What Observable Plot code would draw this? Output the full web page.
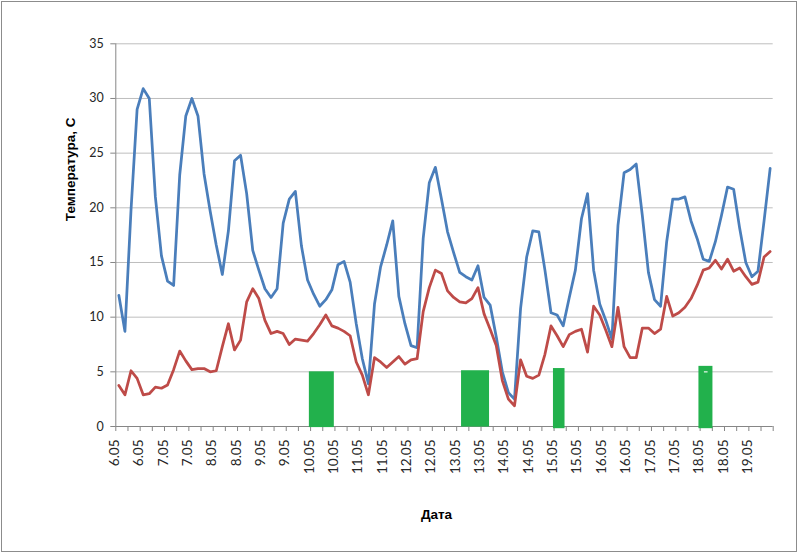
<!DOCTYPE html>
<html><head><meta charset="utf-8">
<script src="https://cdn.jsdelivr.net/npm/d3@7"></script>
<script src="https://cdn.jsdelivr.net/npm/@observablehq/plot@0.6"></script>
<style>
body{margin:0;background:#fff;}
#wrap{position:relative;width:798px;height:553px;overflow:hidden;}
#border{position:absolute;left:1px;top:1px;width:794px;height:549px;border:1px solid #8c8c8c;pointer-events:none;}
</style></head><body>
<div id="wrap"><div id="chart"></div><div id="border"></div></div>
<script>
// Category tick labels (one label every 4 observations)
const dateLabels = ["6.05","6.05","7.05","7.05","8.05","8.05","9.05","9.05","10.05","10.05","11.05","11.05","12.05","12.05","13.05","13.05","14.05","14.05","15.05","15.05","16.05","16.05","17.05","17.05","18.05","18.05","19.05"];
const labelStep = 4;

// Blue series
const seriesBlue = [12.0,8.7,19.8,29.0,30.9,30.0,21.0,15.6,13.3,12.9,
  23.0,28.4,30.0,28.4,23.1,19.7,16.6,13.9,17.9,24.3,
  24.8,21.3,16.1,14.3,12.6,11.8,12.6,18.6,20.8,21.5,
  16.5,13.4,12.1,11.0,11.6,12.5,14.8,15.1,13.2,9.4,
  6.2,3.9,11.2,14.6,16.6,18.8,11.9,9.4,7.4,7.2,
  17.2,22.3,23.7,20.8,17.8,15.9,14.1,13.7,13.4,14.7,
  11.8,11.1,8.2,5.0,3.1,2.5,10.8,15.5,17.9,17.8,
  14.3,10.4,10.2,9.2,11.8,14.3,19.0,21.3,14.3,11.2,
  9.7,8.0,18.4,23.2,23.5,24.0,19.3,14.1,11.6,11.0,
  16.9,20.8,20.8,21.0,18.8,17.2,15.3,15.1,16.9,19.3,
  21.9,21.7,18.1,15.0,13.7,14.2,18.8,23.6];

// Red series
const seriesRed = [3.75,2.9,5.1,4.4,2.9,3.0,3.6,3.5,3.8,5.2,
  6.9,6.0,5.2,5.3,5.3,5.0,5.1,7.3,9.4,7.0,
  7.9,11.4,12.6,11.7,9.7,8.5,8.7,8.5,7.5,8.0,
  7.9,7.8,8.5,9.3,10.2,9.2,9.0,8.7,8.3,5.9,
  4.7,2.9,6.3,5.9,5.4,5.9,6.4,5.7,6.1,6.2,
  10.5,12.7,14.3,14.0,12.4,11.8,11.4,11.3,11.7,12.7,
  10.3,8.9,7.4,4.2,2.5,1.9,6.1,4.6,4.4,4.7,
  6.6,9.2,8.3,7.3,8.4,8.7,8.9,6.8,11.0,10.2,
  8.8,7.3,10.9,7.3,6.3,6.3,9.0,9.0,8.5,8.9,
  11.9,10.1,10.4,10.9,11.7,12.9,14.3,14.5,15.2,14.4,
  15.3,14.2,14.5,13.7,13.0,13.2,15.5,16.0];

// Green blocks (in observation-index units and temperature units)
const barStart = [31.3, 56.3, 71.4, 95.3];
const barEnd   = [35.4, 60.9, 73.3, 97.6];
const barLow   = [-0.1, -0.05, -0.2, -0.2];
const barHigh  = [5.0, 5.1, 5.3, 5.5];

// small white dash on the last block
const dashStart = [96.2];
const dashEnd = [96.8];
const dashLow = [4.9];
const dashHigh = [5.0];

const yTicks = [0,5,10,15,20,25,30,35];

const n = seriesBlue.length;
const bars = barStart.map((s,i) => ({x1: s, x2: barEnd[i], y1: barLow[i], y2: barHigh[i]}));
const dashes = dashStart.map((s,i) => ({x1: s, x2: dashEnd[i], y1: dashLow[i], y2: dashHigh[i]}));
const labelData = dateLabels.map((t,i) => ({t, x: i*labelStep}));

const axisGray = "#868686";

const chart = Plot.plot({
  width: 798,
  height: 553,
  marginLeft: 115.3,
  marginRight: 25.3,
  marginTop: 43.3,
  marginBottom: 127,
  style: {fontFamily: "Lato, 'Open Sans', sans-serif", fontSize: "12.5px", background: "white", color: "#262626"},
  x: {type: "linear", domain: [-0.5, n - 0.5], axis: null},
  y: {domain: [0, 35], axis: null},
  marks: [
    Plot.gridY(yTicks.filter(v => v > 0), {stroke: "#bebebe", strokeOpacity: 1}),
    Plot.axisY({ticks: yTicks, tickSize: 5, tickPadding: 7, stroke: axisGray, fill: "#262626", label: null, fontSize: 12.5}),
    Plot.axisX({ticks: d3.range(-0.5, n, 2), tickSize: 5, tickFormat: () => "", stroke: axisGray, label: null}),
    Plot.ruleY([0], {stroke: axisGray}),
    Plot.ruleX([-0.5], {stroke: axisGray}),
    Plot.text(labelData, {x: "x", text: "t", frameAnchor: "bottom", rotate: -90, textAnchor: "end", dy: 13, fill: "#262626", fontSize: 13.5}),
    Plot.rect(bars, {x1: "x1", x2: "x2", y1: "y1", y2: "y2", fill: "#22b14c"}),
    Plot.rect(dashes, {x1: "x1", x2: "x2", y1: "y1", y2: "y2", fill: "white"}),
    Plot.line(seriesBlue, {x: (d,i) => i, y: d => d, stroke: "#4a7ebb", strokeWidth: 2.75, strokeLinejoin: "round"}),
    Plot.line(seriesRed, {x: (d,i) => i, y: d => d, stroke: "#be4b48", strokeWidth: 2.75, strokeLinejoin: "round"}),
    Plot.text(["Температура, С"], {frameAnchor: "left", rotate: -90, dx: -45, dy: -14, fontWeight: "bold", fontFamily: "'Liberation Sans', Arial, sans-serif", fontSize: 13.5, fill: "#000"}),
    Plot.text(["Дата"], {frameAnchor: "bottom", dx: -8, dy: 92, fontWeight: "bold", fontFamily: "'Liberation Sans', Arial, sans-serif", fontSize: 13.5, fill: "#000"})
  ]
});
document.getElementById("chart").appendChild(chart);
</script>
</body></html>
